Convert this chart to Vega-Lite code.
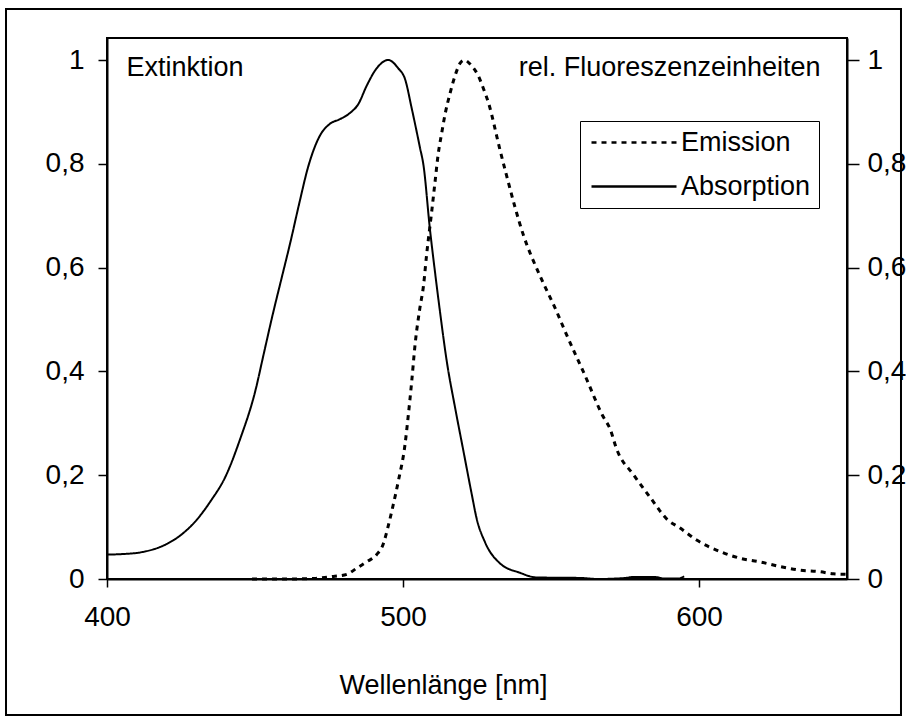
{
  "$schema": "https://vega.github.io/schema/vega-lite/v6.json",
  "width": 740,
  "height": 541,
  "autosize": {"type": "none"},
  "padding": {"left": 107, "top": 38, "right": 59, "bottom": 141},
  "background": "white",
  "config": {
    "font": "Liberation Sans",
    "view": {"stroke": "black", "strokeWidth": 2},
    "axis": {
      "domainColor": "black", "domainWidth": 2, "tickColor": "black", "tickWidth": 1.5,
      "labelColor": "black", "titleColor": "black", "labelFontSize": 28, "titleFontSize": 27,
      "titleFontWeight": "normal", "grid": false, "labelFont": "Liberation Sans", "titleFont": "Liberation Sans",
      "labelFlush": false
    },
    "legend": {
      "labelFont": "Liberation Sans", "labelFontSize": 27, "labelColor": "black"
    }
  },
  "datasets": {
    "spectra": [
      {"wl": 400, "v": 0.047, "series": "Absorption"},
      {"wl": 405, "v": 0.048, "series": "Absorption"},
      {"wl": 412, "v": 0.052, "series": "Absorption"},
      {"wl": 420, "v": 0.067, "series": "Absorption"},
      {"wl": 425, "v": 0.085, "series": "Absorption"},
      {"wl": 430, "v": 0.112, "series": "Absorption"},
      {"wl": 435, "v": 0.15, "series": "Absorption"},
      {"wl": 440, "v": 0.197, "series": "Absorption"},
      {"wl": 445, "v": 0.27, "series": "Absorption"},
      {"wl": 450, "v": 0.36, "series": "Absorption"},
      {"wl": 453, "v": 0.435, "series": "Absorption"},
      {"wl": 456, "v": 0.51, "series": "Absorption"},
      {"wl": 459, "v": 0.58, "series": "Absorption"},
      {"wl": 462, "v": 0.65, "series": "Absorption"},
      {"wl": 465, "v": 0.725, "series": "Absorption"},
      {"wl": 468, "v": 0.795, "series": "Absorption"},
      {"wl": 472, "v": 0.855, "series": "Absorption"},
      {"wl": 475.3, "v": 0.877, "series": "Absorption"},
      {"wl": 478.7, "v": 0.886, "series": "Absorption"},
      {"wl": 482.1, "v": 0.898, "series": "Absorption"},
      {"wl": 484.9, "v": 0.915, "series": "Absorption"},
      {"wl": 487.7, "v": 0.95, "series": "Absorption"},
      {"wl": 491.1, "v": 0.984, "series": "Absorption"},
      {"wl": 495, "v": 1.0, "series": "Absorption"},
      {"wl": 498.4, "v": 0.984, "series": "Absorption"},
      {"wl": 500.7, "v": 0.963, "series": "Absorption"},
      {"wl": 502.9, "v": 0.908, "series": "Absorption"},
      {"wl": 505.7, "v": 0.832, "series": "Absorption"},
      {"wl": 506.9, "v": 0.798, "series": "Absorption"},
      {"wl": 509.1, "v": 0.674, "series": "Absorption"},
      {"wl": 510.8, "v": 0.592, "series": "Absorption"},
      {"wl": 512.5, "v": 0.515, "series": "Absorption"},
      {"wl": 514.8, "v": 0.419, "series": "Absorption"},
      {"wl": 517.6, "v": 0.33, "series": "Absorption"},
      {"wl": 520.4, "v": 0.247, "series": "Absorption"},
      {"wl": 523.2, "v": 0.164, "series": "Absorption"},
      {"wl": 524.9, "v": 0.116, "series": "Absorption"},
      {"wl": 527.7, "v": 0.071, "series": "Absorption"},
      {"wl": 532.8, "v": 0.03, "series": "Absorption"},
      {"wl": 539.5, "v": 0.012, "series": "Absorption"},
      {"wl": 545, "v": 0.003, "series": "Absorption"},
      {"wl": 560, "v": 0.002, "series": "Absorption"},
      {"wl": 566, "v": 0.0, "series": "Absorption"},
      {"wl": 575, "v": 0.002, "series": "Absorption"},
      {"wl": 578, "v": 0.004, "series": "Absorption"},
      {"wl": 585, "v": 0.004, "series": "Absorption"},
      {"wl": 588, "v": 0.001, "series": "Absorption"},
      {"wl": 593, "v": 0.001, "series": "Absorption"},
      {"wl": 595, "v": 0.005, "series": "Absorption"},
      {"wl": 449, "v": 0.0, "series": "Emission"},
      {"wl": 460, "v": 0.0, "series": "Emission"},
      {"wl": 470, "v": 0.001, "series": "Emission"},
      {"wl": 472, "v": 0.002, "series": "Emission"},
      {"wl": 476.5, "v": 0.005, "series": "Emission"},
      {"wl": 481, "v": 0.009, "series": "Emission"},
      {"wl": 484.4, "v": 0.021, "series": "Emission"},
      {"wl": 487.7, "v": 0.033, "series": "Emission"},
      {"wl": 491.1, "v": 0.047, "series": "Emission"},
      {"wl": 493.3, "v": 0.067, "series": "Emission"},
      {"wl": 495, "v": 0.102, "series": "Emission"},
      {"wl": 496.7, "v": 0.143, "series": "Emission"},
      {"wl": 498.4, "v": 0.188, "series": "Emission"},
      {"wl": 500.7, "v": 0.26, "series": "Emission"},
      {"wl": 501.8, "v": 0.316, "series": "Emission"},
      {"wl": 502.9, "v": 0.378, "series": "Emission"},
      {"wl": 504.1, "v": 0.453, "series": "Emission"},
      {"wl": 505.7, "v": 0.522, "series": "Emission"},
      {"wl": 506.9, "v": 0.564, "series": "Emission"},
      {"wl": 508, "v": 0.626, "series": "Emission"},
      {"wl": 509.7, "v": 0.708, "series": "Emission"},
      {"wl": 510.8, "v": 0.764, "series": "Emission"},
      {"wl": 511.9, "v": 0.819, "series": "Emission"},
      {"wl": 513.1, "v": 0.86, "series": "Emission"},
      {"wl": 514.2, "v": 0.895, "series": "Emission"},
      {"wl": 515.9, "v": 0.936, "series": "Emission"},
      {"wl": 517.6, "v": 0.97, "series": "Emission"},
      {"wl": 519.3, "v": 0.994, "series": "Emission"},
      {"wl": 520.7, "v": 1.0, "series": "Emission"},
      {"wl": 523, "v": 0.99, "series": "Emission"},
      {"wl": 525.4, "v": 0.97, "series": "Emission"},
      {"wl": 527.1, "v": 0.946, "series": "Emission"},
      {"wl": 528.8, "v": 0.919, "series": "Emission"},
      {"wl": 532.8, "v": 0.826, "series": "Emission"},
      {"wl": 535, "v": 0.777, "series": "Emission"},
      {"wl": 540.6, "v": 0.664, "series": "Emission"},
      {"wl": 546.3, "v": 0.584, "series": "Emission"},
      {"wl": 547.9, "v": 0.564, "series": "Emission"},
      {"wl": 551.4, "v": 0.522, "series": "Emission"},
      {"wl": 554.7, "v": 0.478, "series": "Emission"},
      {"wl": 561.5, "v": 0.392, "series": "Emission"},
      {"wl": 567.7, "v": 0.312, "series": "Emission"},
      {"wl": 569.9, "v": 0.29, "series": "Emission"},
      {"wl": 572.2, "v": 0.25, "series": "Emission"},
      {"wl": 578, "v": 0.2, "series": "Emission"},
      {"wl": 583.4, "v": 0.158, "series": "Emission"},
      {"wl": 589.6, "v": 0.113, "series": "Emission"},
      {"wl": 593.4, "v": 0.099, "series": "Emission"},
      {"wl": 599.2, "v": 0.075, "series": "Emission"},
      {"wl": 607.1, "v": 0.053, "series": "Emission"},
      {"wl": 613.9, "v": 0.04, "series": "Emission"},
      {"wl": 620.6, "v": 0.033, "series": "Emission"},
      {"wl": 627.4, "v": 0.024, "series": "Emission"},
      {"wl": 634.1, "v": 0.017, "series": "Emission"},
      {"wl": 640.9, "v": 0.014, "series": "Emission"},
      {"wl": 645.4, "v": 0.01, "series": "Emission"},
      {"wl": 650, "v": 0.009, "series": "Emission"}
    ]
  },
  "layer": [
    {
      "data": {"values": [{"part": "frame"}]},
      "mark": {"type": "rect", "fill": null, "fillOpacity": 0, "stroke": "black", "strokeWidth": 2},
      "encoding": {
        "x": {"datum": 365.88, "type": "quantitative", "scale": {"domain": [400, 650], "nice": false, "zero": false}},
        "x2": {"datum": 668.24},
        "y": {"datum": 1.0983, "type": "quantitative", "scale": {"domain": [0, 1.0424], "nice": false}, "axis": null},
        "y2": {"datum": -0.262}
      }
    },
    {
      "data": {"name": "spectra"},
      "transform": [{"filter": "datum.series === 'Absorption'"}],
      "mark": {"type": "line", "color": "black", "strokeWidth": 2, "interpolate": "monotone"},
      "encoding": {
        "x": {
          "field": "wl", "type": "quantitative",
          "scale": {"domain": [400, 650], "nice": false, "zero": false},
          "axis": {
            "orient": "bottom", "values": [400, 500, 600], "tickSize": 8, "labelPadding": 16,
            "title": "Wellenlänge [nm]", "titleX": 336, "titleY": 114, "titleAlign": "center",
            "titleBaseline": "alphabetic"
          }
        },
        "y": {
          "field": "v", "type": "quantitative",
          "scale": {"domain": [0, 1.0424], "nice": false},
          "axis": {
            "orient": "left", "values": [0, 0.2, 0.4, 0.6, 0.8, 1], "tickSize": 9, "labelPadding": 14,
            "labelExpr": "replace(format(datum.value, '~g'), '.', ',')",
            "title": "Extinktion", "titleAngle": 0, "titleAlign": "left", "titleBaseline": "alphabetic",
            "titleX": 19, "titleY": 37
          }
        },
        "strokeDash": {
          "field": "series", "type": "nominal",
          "scale": {"domain": ["Emission", "Absorption"], "range": [[5, 5], [1, 0]]},
          "legend": {
            "title": null, "orient": "none", "legendX": 473, "legendY": 83,
            "symbolType": "M-1,0H7.5", "symbolSize": 400, "symbolStrokeWidth": 2.5, "symbolStrokeColor": "black",
            "strokeColor": "black", "fillColor": "white", "padding": 8, "rowPadding": 16, "labelOffset": 66,
            "labelFontSize": 27
          }
        }
      }
    },
    {
      "data": {"name": "spectra"},
      "transform": [{"filter": "datum.series === 'Emission'"}],
      "mark": {"type": "line", "color": "black", "strokeWidth": 3, "interpolate": "monotone"},
      "encoding": {
        "x": {"field": "wl", "type": "quantitative"},
        "y": {
          "field": "v", "type": "quantitative",
          "scale": {"domain": [0, 1.0424], "nice": false},
          "axis": {
            "orient": "right", "values": [0, 0.2, 0.4, 0.6, 0.8, 1], "tickSize": 12, "labelPadding": 8,
            "labelExpr": "replace(format(datum.value, '~g'), '.', ',')",
            "title": "rel. Fluoreszenzeinheiten", "titleAngle": 0, "titleAlign": "right", "titleBaseline": "alphabetic",
            "titleX": -27, "titleY": 37
          }
        },
        "strokeDash": {"field": "series", "type": "nominal"}
      }
    }
  ],
  "resolve": {"scale": {"y": "independent"}}
}
